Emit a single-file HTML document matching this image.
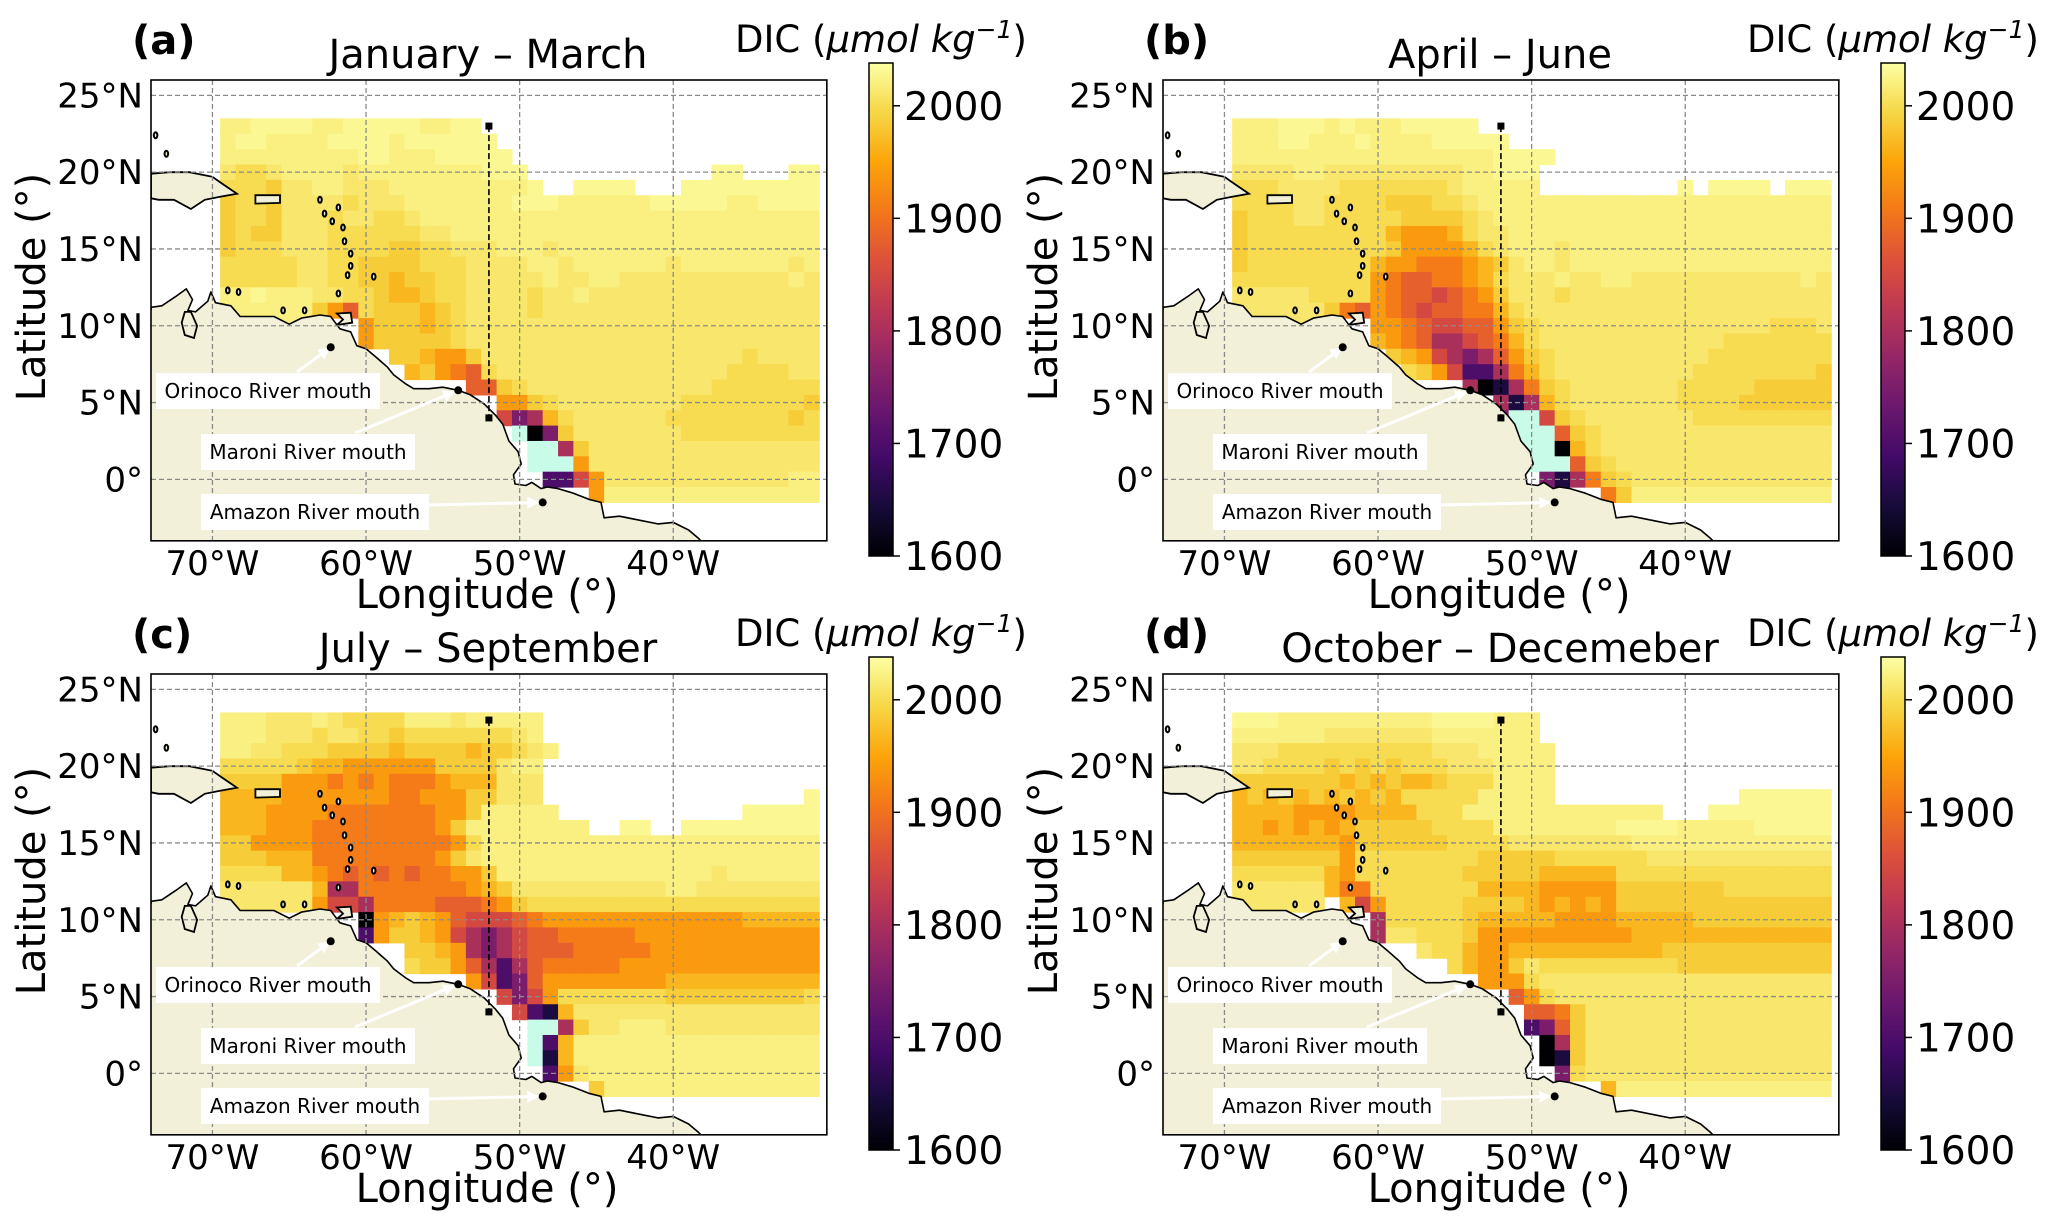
<!DOCTYPE html>
<html><head><meta charset="utf-8">
<style>
html,body{margin:0;padding:0;background:#fff;}
svg{display:block;font-family:"DejaVu Sans","Liberation Sans",sans-serif;}
</style></head>
<body>
<svg id="fig" width="2067" height="1227" viewBox="0 0 2067 1227" xmlns="http://www.w3.org/2000/svg">
<defs>
<linearGradient id="infernoGrad" x1="0" y1="1" x2="0" y2="0"></linearGradient>
<marker id="wArrow" viewBox="0 0 10 10" refX="9" refY="5" markerWidth="4" markerHeight="4" orient="auto"><path d="M0,0 L10,5 L0,10 z" fill="#fff"/></marker>
</defs>
</svg>
<script>
// ===== data =====
const titles = ["January \u2013 March","April \u2013 June","July \u2013 September","October \u2013 Decemeber"];
const panelLetters = ["(a)","(b)","(c)","(d)"];
const latTicks = [25,20,15,10,5,0];
const latTickLabels = ["25°N","20°N","15°N","10°N","5°N","0°"];
const lonTicks = [-70,-60,-50,-40];
const lonTickLabels = ["70°W","60°W","50°W","40°W"];
const cbTicks = [2000,1900,1800,1700,1600];
const cellLon0 = -69;
const cellLatTop = 23;
const levelCodes = ["0","1","2","3","4","5","6","7","8","9","a","b","c","d","e","f","x"];
const levelValues = [1600,1650,1700,1750,1800,1850,1880,1910,1940,1965,1985,2000,2012,2022,2030,2036,1500];
const rowsA = [
"ddeeee ddeeeeeddee ........ ..............",
"deeddd deeeedeeeee e....... ..............",
"dddddd dddeedddeee ee...... ..............",
"cbbcdd ddcdddddddd eee..... .......ee...ee",
"bbbacc ddcccdddddd ddde..ee ee...eeeeeeeee",
"abbacc ccbcccddddd ddeeeddd dddeeeeeddeeee",
"abbacc cbccbbcdddd dddddddd dddddddddddddd",
"abaacc cbbbbbbccdd dddddddd dddddddddddddd",
"abbbcc cbbbbaabbcc cdddcddd dddddddddddddd",
"bbbbbc cbbaaaabbbc cccddcdd ddddcdddddddcd",
"bbbbbc cbbaa9aabbc ccccdccd dcccccccccccdc",
"ddeddd ccbba99abbc cccbccdc cccccccccccccc",
"dddddd a86baaa9abc cccbcccc cccccccccccccc",
"dddddd ...8aaa9abc cccccccc cccccccccccccc",
"...... ...8aaaaabc cccccccc cccccccccccccc",
"...... .....aa988a cccccccc cccccccccbcccc",
"...... ......9a876 bccccccc ccccccccbbbbcc",
"...... ..........6 6abccccc cccccccbbbbbbb",
"...... ........... .88abccc cccccbbbbbbbba",
"...... ........... .5349bcc ccccbbbbbbbbab",
"...... ........... ..x03acc cccccbbbbbbbbb",
"...... ........... ...xx4ac cccccccccccccc",
"...... ........... ...xxx8c cccccccccccccc",
"...... ........... ....2258 ccccccccccccdd",
"...... ........... .......8 dddddddddddddd"];
const rowsB = [
"dddeee dedddeeeee. ........ ..............",
"dddeed ddeddddeeee e....... ..............",
"dddddd ddddddddddd eeee.... ..............",
"ccccdd cccccccccdd eee..... ..............",
"bbbccc cbbbbbbbcdd ddd..... ....e.eeee.eee",
"bbbbcc bbbbaaabbcd dddddddd dddddddddddddd",
"abbbcc bbbbbaaaabc dddddddd dddddddddddddd",
"abbbbb bbbb98889bc cddddddd dddddddddddddd",
"abbbbb bbbba88889b cdddcddd dddddddddddddd",
"abbbbb bbb98877789 acddcddd dddddddddddddd",
"bbbbbb bbb87667789 bcccdccd dcccccccccccdc",
"cccccb bbb87665678 acccbccc cccccccccccccc",
"cccccc a7687656677 9bcccccc cccccccccccccc",
"cccccc ...88765566 8abccccc ccccccccccbbbc",
"...... ...98764456 79bccccc cccccccbbbbbbb",
"...... ....a985434 68abcccc ccccccbbbbbbbb",
"...... .....ba8522 479bcccc cccccbbbbbbbba",
"...... .........40 147abccc ccccbbbbbaaaaa",
"...... ........... 4149bccc ccccbbbbaaaaaa",
"...... ........... 3xx5abcc cccccbbbbbbbbb",
"...... ........... .xxx6abc cccccccccccccc",
"...... ........... ..xx09bc cccccccccccccc",
"...... ........... ..xxx6ab cccccccccccccc",
"...... ........... ...3147a bccccccccccccc",
"...... ........... .......7 addddddddddddd"];
const rowsC = [
"dddccc dcbbbbdddcd dddd.... ..............",
"dddccc bccbbabbbbb bbcd.... ..............",
"ddccbb baaaa9aaaa9 aabcd... ..............",
"bbbbba 99888888aaa acdd.... ..............",
"aaaa88 87878777899 9ccc.... ..............",
"999988 8888877888a accc.... .............e",
"999888 8777777788a ddddd... .........eeeee",
"999888 777777778ad ddddddd. .ee..eeeeeeeee",
"aa8888 7777777778b dddddddd dddddddddddddd",
"aaa999 777777778ac dddddddd dddddddddddddd",
"bbbb99 87676767788 addddddd dddddddcdddddd",
"cccccc 94477777778 9acccccc ccccddcccccccc",
"cccccc 85547777666 78abbbbb bbbbbbbbbbbbbb",
"...... ...089a9865 55678888 88888888899999",
"...... ...28aa9854 34566777 77888888888888",
"...... ......aa984 34566677 77788888888888",
"...... ......baa86 42467777 78888888888888",
"...... ..........8 52368888 88889999999999",
"...... ........... .5358bbb bbbbaaaaaaaaab",
"...... ........... ..5219cc cccccccccccccc",
"...... ........... ...xx4ac cdddcccccccccc",
"...... ........... ...x29dd dddddddddddddd",
"...... ........... ...x19dd dddddddddddddd",
"...... ........... ....28cd dddddddddddddd",
"...... ........... .......a dddddddddddddd"];
const rowsD = [
"eeeddd dddddddeeee ddd..... ..............",
"dddddd cccccccdddd ddd..... ..............",
"cccbbb bbbbbbbcccd dddd.... ..............",
"ccbbbb abababbbccc dddd.... ..............",
"aaaaaa a9a9a99abbb dddd.... ..............",
"9a9a9a 9a9a9bbbbbd dddd.... ........eeeeee",
"999988 889999bbbdd dddddddd ddd...eeeeeeee",
"998989 89aaaaabbbb dddddddd eeeedddddeeeee",
"999999 98aaaaaabbb bccccccc cddddddddddddd",
"aaaaaa a8bbbbbbbba aaaabbbb bbcccccccccccc",
"bbbbbb 98bbbbbbbaa aaa99999 bbbbbbbbbbbbbb",
"cccccc 977bbbbbbb9 99988888 aaaaaaabbbbbbb",
"cccccc .958bbbbbaa aa989898 aaaaaaaaaaaaaa",
"...... ...4bbbbba9 99998888 99999aaaaaaaaa",
"...... ...4ccbbba8 88888888 89999999999999",
"...... ......cbb98 89999999 999aaaaaaaaaaa",
"...... ........b98 8acbbbbb bbbbaaaaaaaaaa",
"...... ..........8 88bccccc cccccccccccccc",
"...... ........... .68bcccc cccccccccccccc",
"...... ........... ..667acc cccccccccccccc",
"...... ........... ..236acc cccccccccccccc",
"...... ........... ...04acc cccccccccccccc",
"...... ........... ...01acc cccccccccccccc",
"...... ........... ....3bcc cccccccccccccc",
"...... ........... .......9 dddddddddddddd"];
const panelRows = [rowsA, rowsB, rowsC, rowsD];
const riverNames = ["Orinoco River mouth","Maroni River mouth","Amazon River mouth"];
const riverLon = [-62.3,-54.0,-48.5];
const riverLat = [8.6,5.8,-1.5];
const transectLon = [-52,-52];
const transectLat = [23,4];
const mainland = [[-74,11.2],[-73.3,11.3],[-72.4,11.9],[-71.7,12.4],[-71.3,11.7],[-71.6,11.0],[-71.1,10.9],[-70.3,11.6],[-70.1,12.2],[-69.8,11.5],[-68.8,11.3],[-68.2,10.6],[-67,10.6],[-66,10.6],[-65,10.1],[-64.2,10.5],[-63,10.7],[-62.3,10.6],[-62,10.2],[-61.7,9.8],[-61,9.6],[-60.6,8.7],[-60,8.5],[-59.4,8.0],[-58.6,7.3],[-58.2,6.8],[-57.4,6.2],[-56.9,5.9],[-55.9,5.9],[-55,6.0],[-54,5.8],[-53.2,5.5],[-52.3,4.9],[-51.6,4.2],[-51.1,3.6],[-50.7,2.5],[-50.1,1.8],[-49.9,1.0],[-50.4,0.3],[-50.3,-0.3],[-49.6,-0.4],[-49.2,-0.2],[-48.6,-0.6],[-48.2,-0.5],[-47.5,-0.6],[-46.5,-0.9],[-45.5,-1.3],[-44.7,-1.5],[-44.5,-2.5],[-43.5,-2.4],[-42,-2.7],[-41,-2.9],[-40,-2.8],[-39,-3.3],[-38.4,-3.8],[-38.2,-4],[-74,-4]];
const hispaniola = [[-74,18.3],[-74,19.9],[-72.8,20.0],[-71.5,20.0],[-70,19.7],[-69.3,19.2],[-68.4,18.6],[-69.5,18.4],[-70.5,18.2],[-71.4,17.6],[-72.5,18.2],[-73.5,18.2]];
const puertoRico = [[-67.2,18.5],[-65.6,18.5],[-65.6,18.0],[-67.2,17.95]];
const trinidad = [[-61.9,10.8],[-61,10.85],[-60.9,10.2],[-61.9,10.05],[-61.5,10.4]];
const lakeMaracaibo = [[-71.8,10.9],[-71.4,10.9],[-71.0,10.0],[-71.2,9.2],[-71.8,9.4],[-72.0,10.2]];
const smallIslands = [[-63.0,18.2],[-61.8,17.7],[-62.7,17.3],[-62.2,16.8],[-61.5,16.4],[-61.4,15.5],[-61.0,14.7],[-61.0,13.9],[-61.2,13.3],[-59.5,13.2],[-61.8,12.1],[-65.4,11.0],[-64.0,11.0],[-68.3,12.2],[-69.0,12.3],[-73.7,22.4],[-73.0,21.2]];

// ===== rendering =====
const NS = "http://www.w3.org/2000/svg";
const svg = document.getElementById("fig");
const LON0=-74, LON1=-30, LAT0=-4, LAT1=26, PX=15.36;
const VMIN=1600, VMAX=2038;
const infStops = ['#000004','#160b39','#420a68','#6a176e','#932667','#bc3754','#dd513a','#f37819','#fca50a','#f6d746','#fcffa4'];
function hex(c){return [parseInt(c.substr(1,2),16),parseInt(c.substr(3,2),16),parseInt(c.substr(5,2),16)];}
function inferno(t){
  t=Math.max(0,Math.min(1,t)); const f=t*10, i=Math.min(9,Math.floor(f)), u=f-i;
  const a=hex(infStops[i]), b=hex(infStops[i+1]);
  return 'rgb('+a.map((v,k)=>Math.round(v+(b[k]-v)*u)).join(',')+')';
}
function colorFor(v){ return v<VMIN ? '#c8fce8' : inferno((v-VMIN)/(VMAX-VMIN)); }
function el(tag, attrs, parent){ const e=document.createElementNS(NS,tag); for(const k in attrs) e.setAttribute(k,attrs[k]); (parent||svg).appendChild(e); return e; }
const grad=document.getElementById('infernoGrad');
infStops.forEach((c,i)=>{ el('stop',{offset:(i/10),'stop-color':c},grad); });

function drawPanel(idx){
  const ox = 151 + (idx%2)*1012, oy = 80 + Math.floor(idx/2)*594;
  const X = lon => ox + (lon-LON0)*PX;
  const Y = lat => oy + (LAT1-lat)*PX;
  const g = el('g',{});
  
  
  const clipId='clip'+idx;
  const cp=el('clipPath',{id:clipId},g); el('rect',{x:X(LON0),y:Y(LAT1),width:(LON1-LON0)*PX,height:(LAT1-LAT0)*PX},cp);
  const map=el('g',{'clip-path':'url(#'+clipId+')'},g);
  
  
  const cells=el('g',{},map);
  
  
  panelRows[idx].forEach((row,j)=>{
    const s=row.replace(/ /g,''); const lat=cellLatTop-j;
    for(let i=0;i<s.length;i++){
      const ch=s[i]; const k=levelCodes.indexOf(ch); if(k<0) continue;
      const lon=cellLon0+i;
      const r=el('rect',{x:X(lon-0.5),y:Y(lat+0.5),width:PX+0.6,height:PX+0.6,fill:colorFor(levelValues[k])},cells);
      
      
    }
  });
  const pts = arr => arr.map(p=>X(p[0]).toFixed(1)+','+Y(p[1]).toFixed(1)).join(' ');
  const land=el('polygon',{points:pts(mainland),fill:'#f2f0d8',stroke:'#000','stroke-width':1.6,'stroke-linejoin':'round'},map);
  
  
  el('rect',{x:X(-74),y:Y(-3.9),width:(-38.4+74)*PX,height:PX*0.2,fill:'#f2f0d8'},map);
  el('rect',{x:X(-74)-2,y:Y(11),width:3,height:PX*15,fill:'#f2f0d8'},map);
  [hispaniola,puertoRico,trinidad,lakeMaracaibo].forEach((poly,n)=>{
    const p=el('polygon',{points:pts(poly),fill:'#f2f0d8',stroke:'#000','stroke-width':1.8},map);
    
    
  });
  smallIslands.forEach(p=>{
    const e=el('ellipse',{cx:X(p[0]),cy:Y(p[1]),rx:1.8,ry:3,fill:'#f2f0d8',stroke:'#000','stroke-width':2},map);
    
    
  });
  lonTicks.forEach(l=>{ const ln=el('line',{x1:X(l),x2:X(l),y1:Y(LAT1),y2:Y(LAT0),stroke:'#8a8a8a','stroke-width':1.3,'stroke-dasharray':'5,3'},map);
    
     });
  latTicks.forEach(l=>{ const ln=el('line',{x1:X(LON0),x2:X(LON1),y1:Y(l),y2:Y(l),stroke:'#8a8a8a','stroke-width':1.3,'stroke-dasharray':'5,3'},map);
    
     });
  const tr=el('line',{x1:X(transectLon[0]),x2:X(transectLon[1]),y1:Y(transectLat[0]),y2:Y(transectLat[1]),stroke:'#000','stroke-width':1.6,'stroke-dasharray':'6,3'},map);
  
  
  for(let k=0;k<2;k++){ const sq=el('rect',{x:X(transectLon[k])-3.5,y:Y(transectLat[k])-3.5,width:7,height:7,fill:'#000'},map);
    
     }
  const boxes=[[156,373,380,409,297,372],[201,434,415,470,355,433],[201,494,429,530,429,505]];
  boxes.forEach((b,k)=>{
    const dx=ox-151, dy=oy-80;
    const px=X(riverLon[k]), py=Y(riverLat[k]);
    const ar=el('line',{x1:b[4]+dx,y1:b[5]+dy,x2:px-(px-(b[4]+dx))*0.04,y2:py-(py-(b[5]+dy))*0.04,stroke:'#fff','stroke-width':3,'marker-end':'url(#wArrow)'},map);
    
    
    const bx=el('rect',{x:b[0]+dx,y:b[1]+dy,width:b[2]-b[0],height:b[3]-b[1],fill:'#fff'},map);
    
    
    const t=el('text',{x:(b[0]+b[2])/2+dx,y:(b[1]+b[3])/2+dy+7,'text-anchor':'middle','font-size':20,fill:'#000'},map);
    t.textContent=riverNames[k];
    
    
    const d=el('circle',{cx:px,cy:py,r:4,fill:'#000'},map);
    
    
  });
  const fr=el('rect',{x:X(LON0),y:Y(LAT1),width:(LON1-LON0)*PX,height:(LAT1-LAT0)*PX,fill:'none',stroke:'#000','stroke-width':1.6},g);
  
  
  latTicks.forEach((l,k)=>{ const t=el('text',{x:X(LON0)-8,y:Y(l)+12,'text-anchor':'end','font-size':34},g); t.textContent=latTickLabels[k];
    
     });
  lonTicks.forEach((l,k)=>{ const t=el('text',{x:X(l),y:Y(LAT0)+34,'text-anchor':'middle','font-size':34},g); t.textContent=lonTickLabels[k];
    
     });
  const xl=el('text',{x:ox+336,y:oy+528,'text-anchor':'middle','font-size':40},g); xl.textContent='Longitude (°)';
  
  
  const yl=el('text',{x:0,y:0,'text-anchor':'middle','font-size':40,transform:'translate('+(ox-106)+','+(oy+207)+') rotate(-90)'},g); yl.textContent='Latitude (°)';
  
  
  const ti=el('text',{x:ox+337,y:oy-12,'text-anchor':'middle','font-size':40},g); ti.textContent=titles[idx];
  
  
  const pl=el('text',{x:ox-19,y:oy-26,'font-size':40,'font-weight':'bold'},g); pl.textContent=panelLetters[idx];
  
  
  const cx=ox+718, cw=24, cy0=oy-17, cy1=oy+476;
  const cbY = v => cy1 - (v-VMIN)/(VMAX-VMIN)*(cy1-cy0);
  const cb=el('rect',{x:cx,y:cy0,width:cw,height:cy1-cy0,fill:'url(#infernoGrad)',stroke:'#000','stroke-width':1.5},g);
  
  
  cbTicks.forEach(v=>{
    el('line',{x1:cx+cw,x2:cx+cw+7,y1:cbY(v),y2:cbY(v),stroke:'#000','stroke-width':1.5},g);
    const t=el('text',{x:cx+cw+11,y:cbY(v)+14,'font-size':39},g); t.textContent=String(v);
    
    
  });
  const ct=el('text',{x:cx+12,y:oy-28,'text-anchor':'middle','font-size':37},g);
  
  
  ct.innerHTML='DIC (<tspan font-style="italic">μmol kg</tspan><tspan font-style="italic" font-size="25" dy="-14">−1</tspan><tspan dy="14">)</tspan>';
}
for(let i=0;i<4;i++) drawPanel(i);
</script>
</body></html>
